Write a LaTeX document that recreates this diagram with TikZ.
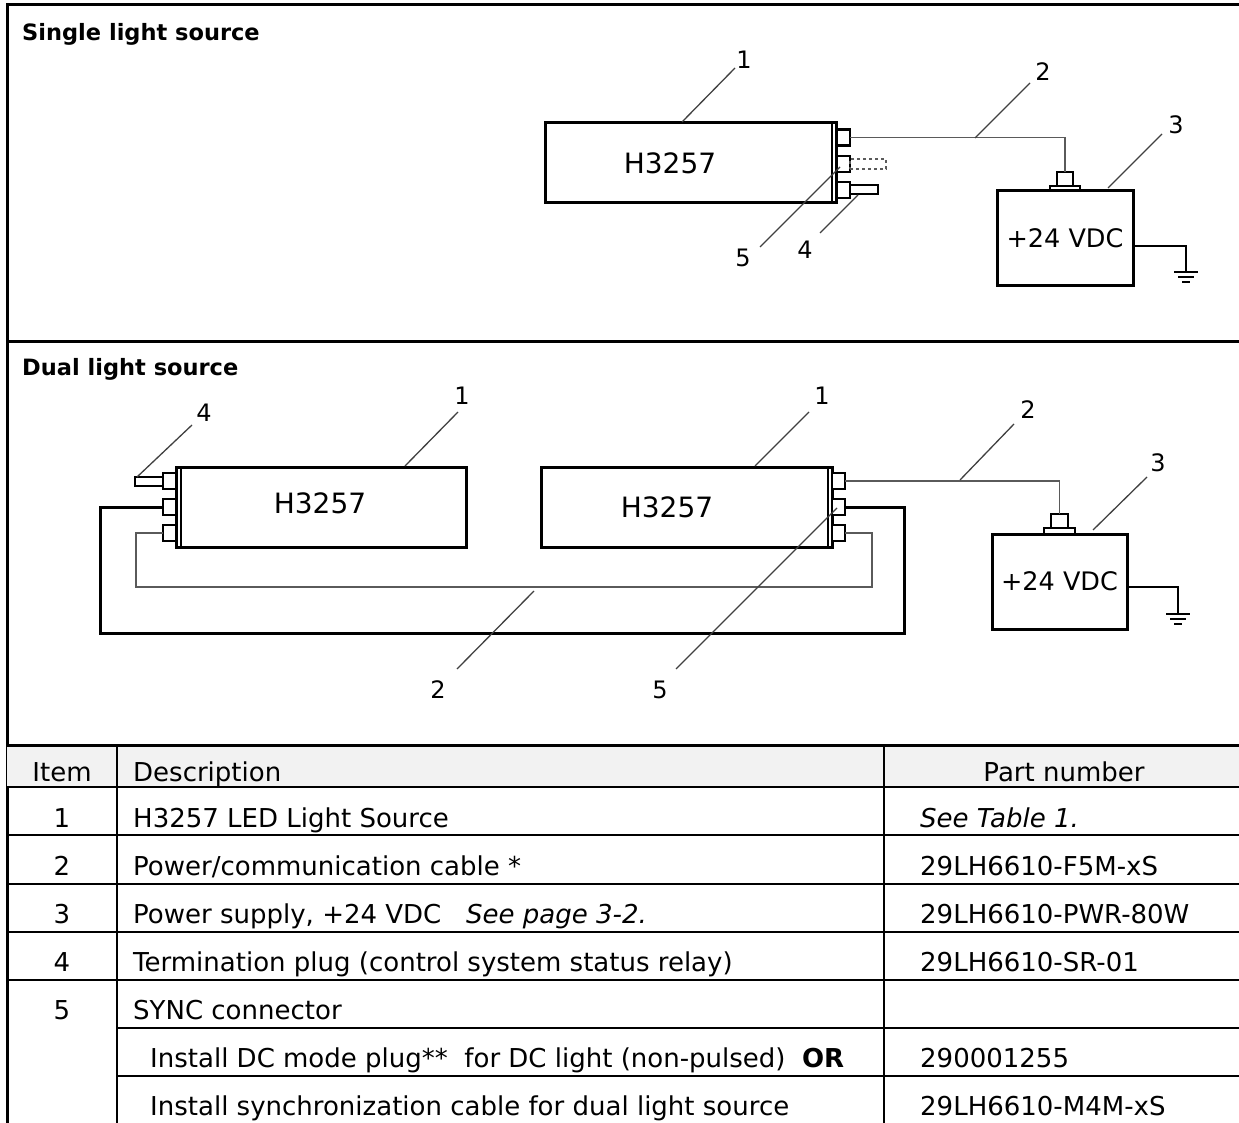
\documentclass[tikz,border=0pt]{standalone}
\usepackage{fontspec}
\setmainfont{DejaVu Sans}
\usetikzlibrary{calc}
\definecolor{hdr}{HTML}{F2F2F2}
\definecolor{cab}{HTML}{5A5A5A}
\definecolor{ldr}{HTML}{404040}
\begin{document}
\begin{tikzpicture}[x=1pt,y=-1pt,
  frameline/.style={line width=3pt, line cap=rect},
  tabline/.style={line width=2.5pt},
  unitbox/.style={draw, line width=3pt, inner sep=0pt, outer sep=0pt},
  inneredge/.style={line width=2pt},
  sq/.style={draw, line width=2.2pt, minimum width=13pt, minimum height=16pt, inner sep=0pt, outer sep=0pt, fill=white},
  plugrect/.style={draw, line width=2pt, inner sep=0pt, outer sep=0pt},
  cable/.style={draw=cab, line width=1.6pt},
  synccable/.style={line width=3pt},
  leader/.style={draw=ldr, line width=1.3pt},
  gnd/.style={line width=2pt},
  numlbl/.style={font=\fontsize{24}{28}\selectfont, inner sep=0pt},
  unitlbl/.style={font=\fontsize{28}{32}\selectfont, inner sep=0pt},
  psulbl/.style={font=\fontsize{25.5}{30}\selectfont},
  cell/.style={font=\fontsize{26}{30}\selectfont, inner sep=0pt, anchor=base west},
  cellc/.style={font=\fontsize{26}{30}\selectfont, inner sep=0pt, anchor=base},
  sectitle/.style={font=\bfseries\fontsize{22.5}{27}\selectfont, inner sep=0pt, anchor=base west}]

\useasboundingbox (0,0) rectangle (1239,1123);

% ---------- frame ----------
\draw[frameline] (7,1123) -- (7,5) -- (1239,5);
\draw[frameline] (7,341) -- (1239,341);

\node[sectitle] (title1) at (22,41) {Single light source};
\node[sectitle] (title2) at (22,375) {Dual light source};

% ================= SINGLE =================
\node[unitbox, minimum width=291pt, minimum height=80pt] (u1) at (690.5,163) {};
\draw[inneredge] ($(u1.north east)+(-4,0)$) -- ($(u1.south east)+(-4,0)$);
\node[unitlbl] (t1) at (670,163) {H3257};

\node[sq] (s11) at (843.5,137.5) {};
\node[sq] (s12) at (843.5,164) {};
\node[sq] (s13) at (843.5,190) {};

\node[draw=cab, dashed, line width=1.3pt, minimum width=36pt, minimum height=10pt, inner sep=0pt, outer sep=0pt, anchor=west] (dp1) at (s12.east) {};
\node[plugrect, minimum width=28pt, minimum height=9pt, anchor=west] (tp1) at (s13.east) {};

\node[unitbox, minimum width=136pt, minimum height=95pt, psulbl] (ps1) at (1065,238.5) {+24 VDC};
\node[plugrect, minimum width=30pt, minimum height=5pt, anchor=south] (pb1) at (ps1.north) {};
\node[plugrect, minimum width=16pt, minimum height=14pt, anchor=south] (pp1) at (pb1.north) {};

\draw[cable] (s11.east) -| (pp1.north);

\coordinate (g1) at (1186,272);
\draw[gnd] ($(ps1.east)+(0,7.5)$) -| (g1);
\draw[gnd] ($(g1)+(-12,0)$) -- ($(g1)+(12,0)$);
\draw[gnd] ($(g1)+(-8,5)$) -- ($(g1)+(8,5)$);
\draw[gnd] ($(g1)+(-4,10)$) -- ($(g1)+(4,10)$);

% leaders single
\coordinate (a11) at (682,122); \coordinate (b11) at (735,68);
\node[numlbl] (n11) at (744,60) {1};
\draw[leader] (a11) -- (b11);
\coordinate (a15) at (840,167); \coordinate (b15) at (760,247);
\node[numlbl] (n15) at (743,258) {5};
\draw[leader] (a15) -- (b15);
\coordinate (a14) at (858,195); \coordinate (b14) at (820,233);
\node[numlbl] (n14) at (805,250) {4};
\draw[leader] (a14) -- (b14);
\coordinate (a12) at (975,138); \coordinate (b12) at (1030,83);
\node[numlbl] (n12) at (1043,72) {2};
\draw[leader] (a12) -- (b12);
\coordinate (a13) at (1108,188); \coordinate (b13) at (1162,134);
\node[numlbl] (n13) at (1176,125) {3};
\draw[leader] (a13) -- (b13);

% ================= DUAL =================
\node[unitbox, minimum width=290pt, minimum height=80pt] (uL) at (321,507) {};
\draw[inneredge] ($(uL.north west)+(4.5,0)$) -- ($(uL.south west)+(4.5,0)$);
\node[unitlbl] (tL) at (320,503) {H3257};

\node[unitbox, minimum width=291pt, minimum height=80pt] (uR) at (686.5,507) {};
\draw[inneredge] ($(uR.north east)+(-4.5,0)$) -- ($(uR.south east)+(-4.5,0)$);
\node[unitlbl] (tR) at (667,507) {H3257};

\node[sq] (sL1) at (169.5,481) {};
\node[sq] (sL2) at (169.5,507) {};
\node[sq] (sL3) at (169.5,533) {};
\node[sq] (sR1) at (838.5,481) {};
\node[sq] (sR2) at (838.5,507) {};
\node[sq] (sR3) at (838.5,533) {};

\node[plugrect, minimum width=28pt, minimum height=9pt, anchor=east] (tpL) at (sL1.west) {};

\node[unitbox, minimum width=135pt, minimum height=95pt, psulbl] (ps2) at (1059.5,581.5) {+24 VDC};
\node[plugrect, minimum width=31pt, minimum height=6pt, anchor=south] (pb2) at (ps2.north) {};
\node[plugrect, minimum width=17pt, minimum height=14pt, anchor=south] (pp2) at (pb2.north) {};

\draw[cable] (sR1.east) -| (pp2.north);

% sync cable (thick) and power cable (thin) between the units
\coordinate (k1) at (100,507); \coordinate (k2) at (100,633);
\coordinate (k3) at (904,633); \coordinate (k4) at (904,507);
\draw[synccable] (sL2.west) -- (k1) -- (k2) -- (k3) -- (k4) -- (sR2.east);
\coordinate (m1) at (136,533); \coordinate (m2) at (136,587);
\coordinate (m3) at (872,587); \coordinate (m4) at (872,533);
\draw[cable] (sL3.west) -- (m1) -- (m2) -- (m3) -- (m4) -- (sR3.east);

\coordinate (g2) at (1178,614);
\draw[gnd] ($(ps2.east)+(0,5.5)$) -| (g2);
\draw[gnd] ($(g2)+(-12,0)$) -- ($(g2)+(12,0)$);
\draw[gnd] ($(g2)+(-8,5)$) -- ($(g2)+(8,5)$);
\draw[gnd] ($(g2)+(-4,10)$) -- ($(g2)+(4,10)$);

% leaders dual
\coordinate (a24) at (137,477); \coordinate (b24) at (192,425);
\node[numlbl] (n24) at (204,413) {4};
\draw[leader] (a24) -- (b24);
\coordinate (a21) at (405,466); \coordinate (b21) at (458,412);
\node[numlbl] (n21) at (462,396) {1};
\draw[leader] (a21) -- (b21);
\coordinate (a21r) at (755,466); \coordinate (b21r) at (809,412);
\node[numlbl] (n21r) at (822,396) {1};
\draw[leader] (a21r) -- (b21r);
\coordinate (a22) at (534,591); \coordinate (b22) at (457,669);
\node[numlbl] (n22) at (438,690) {2};
\draw[leader] (a22) -- (b22);
\coordinate (a25) at (837,508); \coordinate (b25) at (676,669);
\node[numlbl] (n25) at (660,690) {5};
\draw[leader] (a25) -- (b25);
\coordinate (a22r) at (960,480); \coordinate (b22r) at (1014,424);
\node[numlbl] (n22r) at (1028,410) {2};
\draw[leader] (a22r) -- (b22r);
\coordinate (a23) at (1093,530); \coordinate (b23) at (1147,477);
\node[numlbl] (n23) at (1158,463) {3};
\draw[leader] (a23) -- (b23);

% ================= TABLE =================
\fill[hdr] (7,745) rectangle (1239,787);
\draw[frameline] (7,745) -- (1239,745);
\draw[tabline] (7,787) -- (1239,787);
\draw[tabline] (7,835) -- (1239,835);
\draw[tabline] (7,884) -- (1239,884);
\draw[tabline] (7,932) -- (1239,932);
\draw[tabline] (7,980) -- (1239,980);
\draw[tabline] (117,1028) -- (1239,1028);
\draw[tabline] (117,1076) -- (1239,1076);
\draw[tabline] (117,745) -- (117,1123);
\draw[tabline] (884,745) -- (884,1123);

\node[cellc] (h1) at (62,781) {Item};
\node[cell] (h2) at (133,781) {Description};
\node[cellc] (h3) at (1064,781) {Part number};

\node[cellc] (i1) at (62,827) {1};
\node[cell] (d1) at (133,827) {H3257 LED Light Source};
\node[cell] (p1) at (920,827) {\itshape See Table 1.};

\node[cellc] (i2) at (62,875) {2};
\node[cell] (d2) at (133,875) {Power/communication cable *};
\node[cell] (p2) at (920,875) {29LH6610-F5M-xS};

\node[cellc] (i3) at (62,923) {3};
\node[cell] (d3) at (133,923) {Power supply, +24 VDC};
\node[cell] (d3b) at (466,923) {\itshape See page 3-2.};
\node[cell] (p3) at (920,923) {29LH6610-PWR-80W};

\node[cellc] (i4) at (62,971) {4};
\node[cell] (d4) at (133,971) {Termination plug (control system status relay)};
\node[cell] (p4) at (920,971) {29LH6610-SR-01};

\node[cellc] (i5) at (62,1019) {5};
\node[cell] (d5) at (133,1019) {SYNC connector};

\node[cell] (d6) at (150,1067) {Install DC mode plug**\ \ for DC light (non-pulsed)\ \ \textbf{OR}};
\node[cell] (p6) at (920,1067) {290001255};

\node[cell] (d7) at (150,1115) {Install synchronization cable for dual light source};
\node[cell] (p7) at (920,1115) {29LH6610-M4M-xS};

\end{tikzpicture}
\end{document}
